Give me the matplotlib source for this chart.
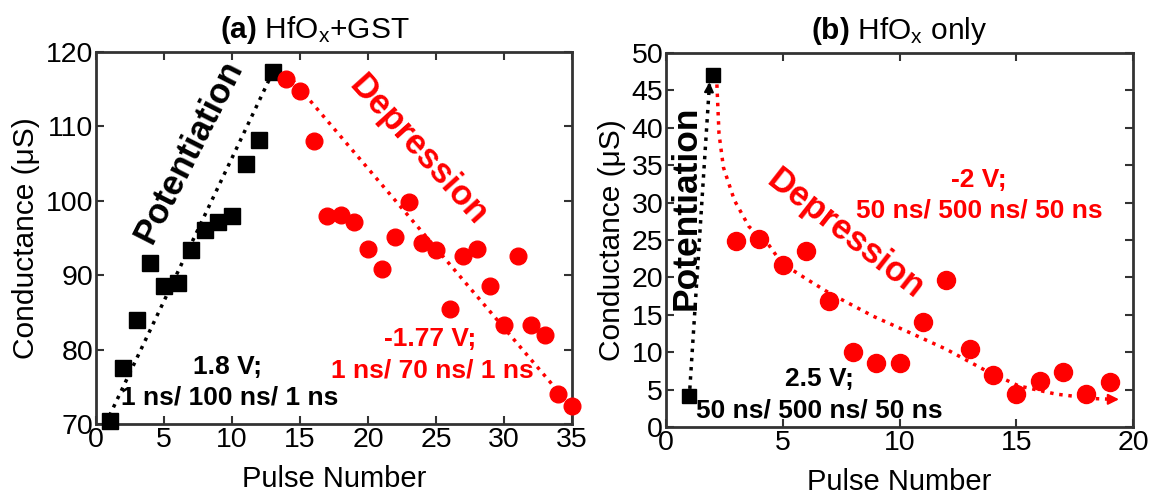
import matplotlib
matplotlib.use("Agg")
import matplotlib.pyplot as plt

plt.rcParams['font.family'] = ['Liberation Sans', 'DejaVu Sans']
plt.rcParams['mathtext.fontset'] = 'custom'
plt.rcParams['mathtext.rm'] = 'Liberation Sans'
plt.rcParams['mathtext.bf'] = 'Liberation Sans:bold'
plt.rcParams['mathtext.it'] = 'Liberation Sans:italic'

# ---- Panel (a) data: HfOx+GST ----
a_pot_x = [1, 2, 3, 4, 5, 6, 7, 8, 9, 10, 11, 12, 13]
a_pot_y = [70.4, 77.5, 84.0, 91.7, 88.5, 88.9, 93.4, 96.1, 97.2, 98.0, 105.0, 108.2, 117.3]
a_dep_x = list(range(14, 36))
a_dep_y = [116.4, 114.7, 108.1, 98.0, 98.1, 97.1, 93.5, 90.8, 95.2, 99.9, 94.3,
           93.4, 85.4, 92.6, 93.5, 88.6, 83.3, 92.6, 83.3, 81.9, 74.0, 72.4]
a_pot_fit_x = [0.7, 13]
a_pot_fit_y = [70.0, 117.3]
a_dep_fit_x = [14, 35]
a_dep_fit_y = [117.2, 72.2]

# ---- Panel (b) data: HfOx only ----
b_pot_x = [1, 2]
b_pot_y = [4.2, 47.0]
b_dep_x = list(range(3, 20))
b_dep_y = [24.9, 25.1, 21.6, 23.5, 16.8, 10.0, 8.6, 8.5, 14.1, 19.7, 10.4,
           6.9, 4.4, 6.2, 7.4, 4.4, 6.0]
b_pot_guide_x = [1.02, 1.86]
b_pot_guide_y = [5.1, 45.8]
b_dep_guide_x = [2.18, 2.27, 2.46, 2.93, 3.55, 4.34, 4.96, 6.06, 7.0, 8.88,
                 10.45, 12.0, 13.6, 15.1, 16.7, 18.3, 19.2]
b_dep_guide_y = [45.8, 39.2, 34.7, 30.3, 26.8, 24.6, 21.9, 19.7, 17.9, 14.8,
                 12.6, 10.4, 7.7, 5.5, 4.4, 3.8, 3.7]

RED = '#ff0000'
SPINE = '#333333'

fig = plt.figure(figsize=(11.54, 4.94), dpi=100)
axa = fig.add_axes([96/1154, 1-424/494, 476/1154, 372/494])
axb = fig.add_axes([666/1154, 1-427/494, 467/1154, 374/494])

for ax in (axa, axb):
    for s in ax.spines.values():
        s.set_color(SPINE)
        s.set_linewidth(2)
    ax.tick_params(direction='in', top=True, right=True, length=6, width=1.5,
                   color=SPINE, labelsize=20.5, pad=2)
    ax.set_xlabel('Pulse Number', fontsize=21, labelpad=9)
    ax.set_ylabel('Conductance (μS)', fontsize=21.5, labelpad=4)

# Panel a
axa.plot(a_pot_fit_x, a_pot_fit_y, ':', color='black', lw=2.5, zorder=2)
axa.plot(a_dep_fit_x, a_dep_fit_y, ':', color=RED, lw=2.5, zorder=2)
axa.plot(a_pot_x, a_pot_y, 's', color='black', ms=11, zorder=3, clip_on=False)
axa.plot(a_dep_x, a_dep_y, 'o', color=RED, ms=12, zorder=3, clip_on=False)
axa.set_xlim(0, 35)
axa.set_ylim(70, 120)
axa.set_xticks([0, 5, 10, 15, 20, 25, 30, 35])
axa.set_yticks([70, 80, 90, 100, 110, 120])
axa.set_title(r'$\bf{(a)}$ HfO$_\mathrm{x}$+GST', fontsize=21.5, pad=10, x=0.46)
axa.text(6.8, 106.6, 'Potentiation', rotation=63, fontsize=25, fontweight='bold',
         ha='center', va='center', color='black')
axa.text(23.7, 106.8, 'Depression', rotation=-48, fontsize=25, fontweight='bold',
         ha='center', va='center', color=RED)
axa.text(9.7, 77.6, '1.8 V;', fontsize=19, fontweight='bold', ha='center', va='center')
axa.text(9.85, 73.5, '1 ns/ 100 ns/ 1 ns', fontsize=19, fontweight='bold',
         ha='center', va='center')
axa.text(24.6, 81.4, '-1.77 V;', fontsize=19, fontweight='bold', ha='center',
         va='center', color=RED)
axa.text(24.7, 77.2, '1 ns/ 70 ns/ 1 ns', fontsize=19, fontweight='bold',
         ha='center', va='center', color=RED)

# Panel b
axb.plot(b_pot_guide_x, b_pot_guide_y, ':', color='black', lw=2.5, zorder=2)
axb.annotate('', xy=(b_pot_guide_x[-1], b_pot_guide_y[-1] + 0.3),
             xytext=(b_pot_guide_x[-2] + 0.98 * (b_pot_guide_x[-1] - b_pot_guide_x[-2]),
                     b_pot_guide_y[-2] + 0.98 * (b_pot_guide_y[-1] - b_pot_guide_y[-2])),
             arrowprops=dict(arrowstyle='-|>', color='black', lw=1.5,
                             mutation_scale=14, shrinkA=0, shrinkB=0), zorder=2)
axb.plot(b_dep_guide_x, b_dep_guide_y, ':', color=RED, lw=2.5, zorder=2)
axb.annotate('', xy=(b_dep_guide_x[-1] + 0.2, b_dep_guide_y[-1]),
             xytext=(b_dep_guide_x[-1] - 0.3, b_dep_guide_y[-1]),
             arrowprops=dict(arrowstyle='-|>', color=RED, lw=1.5,
                             mutation_scale=16, shrinkA=0, shrinkB=0), zorder=2)
axb.plot(b_pot_x, b_pot_y, 's', color='black', ms=10, zorder=3, clip_on=False)
axb.plot(b_dep_x, b_dep_y, 'o', color=RED, ms=13, zorder=3, clip_on=False)
axb.set_xlim(0, 20)
axb.set_ylim(0, 50)
axb.set_xticks([0, 5, 10, 15, 20])
axb.set_yticks(list(range(0, 51, 5)))
axb.set_title(r'$\bf{(b)}$ HfO$_\mathrm{x}$ only', fontsize=21.5, pad=10)
axb.text(0.85, 29.3, 'Potentiation', rotation=90, fontsize=25.5, fontweight='bold',
         ha='center', va='center', color='black')
axb.text(7.7, 25.8, 'Depression', rotation=-38, fontsize=25, fontweight='bold',
         ha='center', va='center', color=RED)
axb.text(13.4, 33.0, '-2 V;', fontsize=19, fontweight='bold', ha='center',
         va='center', color=RED)
axb.text(13.4, 29.0, '50 ns/ 500 ns/ 50 ns', fontsize=19, fontweight='bold',
         ha='center', va='center', color=RED)
axb.text(6.55, 6.4, '2.5 V;', fontsize=19, fontweight='bold', ha='center', va='center')
axb.text(6.55, 2.2, '50 ns/ 500 ns/ 50 ns', fontsize=19, fontweight='bold',
         ha='center', va='center')

fig.savefig('out.png', dpi=100)
